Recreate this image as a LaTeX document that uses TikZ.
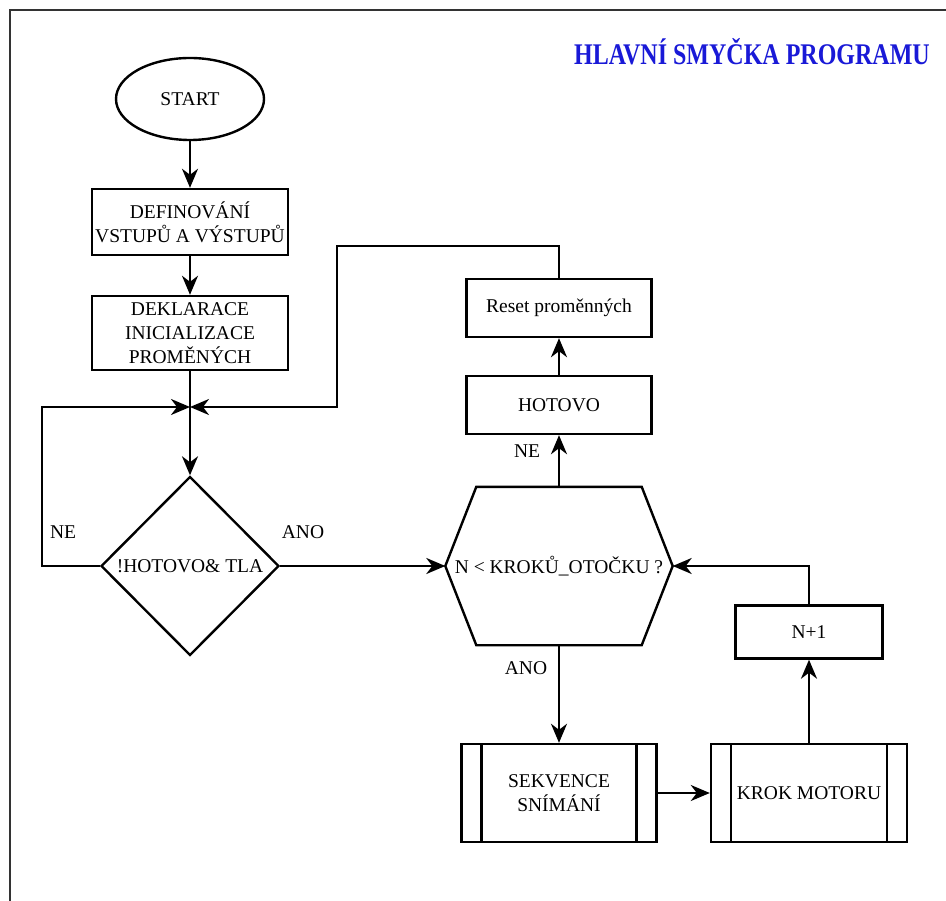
\documentclass[tikz,border=0pt]{standalone}
\usepackage{fontspec}
\setmainfont{Liberation Serif}
\usepackage{graphicx}
\usepackage{tikz}
\usetikzlibrary{arrows.meta}
\usetikzlibrary{shapes.geometric}

\begin{document}
\begin{tikzpicture}[x = 1pt, y = -1pt, line width = 2.4pt, >={Stealth[length=19pt,width=16pt,inset=6pt]},
	every node/.style={font=\fontsize{19.5}{24}\selectfont, align=center, inner sep = 0pt},
	box/.style={rectangle, draw, minimum width = 196pt, minimum height = 66pt},
	subbox/.style={box, minimum height = 98pt, path picture={
		\draw ([xshift=20pt]path picture bounding box.north west) -- ([xshift=20pt]path picture bounding box.south west);
		\draw ([xshift=-20pt]path picture bounding box.north east) -- ([xshift=-20pt]path picture bounding box.south east);}},
	lbl/.style={font=\fontsize{19.5}{24}\selectfont}]
	
	\useasboundingbox (0,0) rectangle (946,901);
	\draw[line width = 2.4pt, black!80] (946,10) -- (10,10) -- (10,901);
	
	\node[font=\fontsize{30}{34}\selectfont\bfseries, text={rgb,255:red,25;green,25;blue,215}] (title) at (752,52) {\scalebox{0.8}[1]{HLAVNÍ SMYČKA PROGRAMU}};
	
	\node[ellipse, draw, minimum width = 148pt, minimum height = 82pt] (start) at (190,99) {START};
	\node[box] (def) at (190,222) {DEFINOVÁNÍ\\VSTUPŮ A VÝSTUPŮ};
	\node[box, minimum height = 74pt] (dekl) at (190,333) {DEKLARACE\\INICIALIZACE\\PROMĚNÝCH};
	\coordinate (j) at (190,407);
	\node[diamond, draw, minimum width = 178pt, minimum height = 179pt] (dia) at (190,566) {!HOTOVO\& TLA};
	
	\node[minimum width = 225pt, minimum height = 156pt] (hex) at (559,566) {N < KROKŮ\_OTOČKU ?};
	\draw (hex.west) -- ([xshift=31pt]hex.north west) -- ([xshift=-31pt]hex.north east) -- (hex.east) -- ([xshift=-31pt]hex.south east) -- ([xshift=31pt]hex.south west) -- cycle;
	\node[box, minimum width = 185pt, minimum height = 58pt] (hotovo) at (559,405) {HOTOVO};
	\node[box, minimum width = 185pt, minimum height = 58pt] (reset) at (559,308) {Reset proměnných};
	
	\node[subbox, minimum width = 195pt] (sek) at (559,793) {SEKVENCE\\SNÍMÁNÍ};
	\node[subbox] (krok) at (809,793) {KROK MOTORU};
	\node[box, minimum width = 147pt, minimum height = 53pt] (npl) at (809,632) {N+1};
	
	\node[lbl] (ne1) at (63,532) {NE};
	\node[lbl] (ano1) at (303,532) {ANO};
	\node[lbl] (ne2) at (527,451) {NE};
	\node[lbl] (ano2) at (526,668) {ANO};
	
	\draw[->] (start) -- (def);
	\draw[->] (def) -- (dekl);
	\draw[->] (dekl) -- (dia);
	\draw[->] (dia.west) -- ++(-58,0) |- (j);
	\draw[->] (reset.north) -- ++(0,-32) -| ([xshift=147pt]j) -- (j);
	\draw[->] (dia.east) -- (hex.west);
	\draw[->] (hex.north) -- (hotovo.south);
	\draw[->] (hotovo) -- (reset);
	\draw[->] (hex.south) -- (sek.north);
	\draw[->] (sek) -- (krok);
	\draw[->] (krok) -- (npl);
	\draw[->] (npl.north) |- (hex.east);
	
\end{tikzpicture}
\end{document}
